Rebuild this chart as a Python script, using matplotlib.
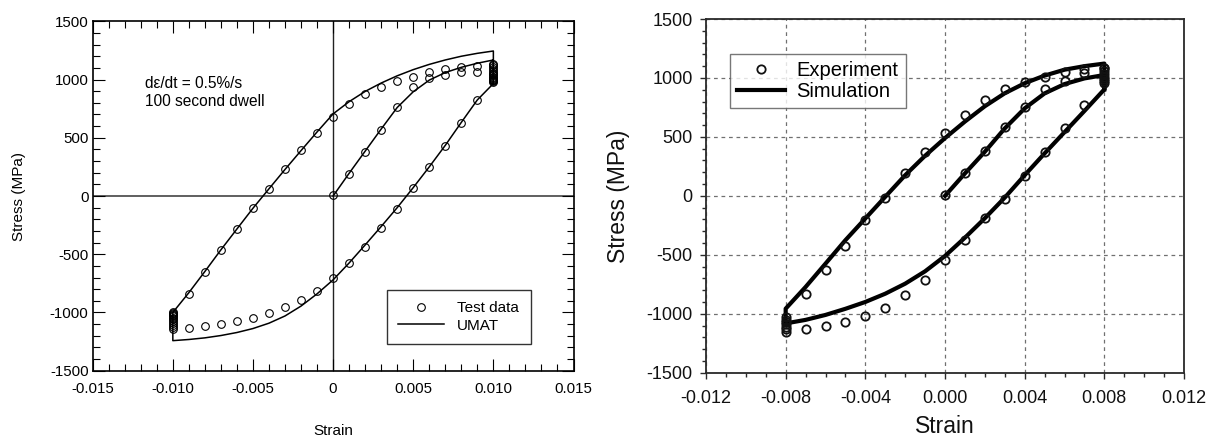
import matplotlib
matplotlib.use('Agg')
import matplotlib.pyplot as plt
from matplotlib.ticker import MultipleLocator, FixedLocator, FixedFormatter
import numpy as np

plt.rcParams['font.family'] = ['Liberation Sans', 'DejaVu Sans']
plt.rcParams['axes.unicode_minus'] = False

# ---------------- left panel: UMAT fit, 100 s dwell, +/-1% strain ----------------
# test data, strain in steps of 0.001
left_load_strain = [0.000, 0.001, 0.002, 0.003, 0.004, 0.005, 0.006, 0.007, 0.008, 0.009]
left_load_stress = [5, 188, 375, 567, 762, 938, 1015, 1043, 1061, 1064]

left_dwell_hi = [1128, 1108, 1090, 1072, 1058, 1045, 1035, 1025, 1016, 1008, 1000, 993, 986, 978]
left_dwell_lo = [-1145, -1125, -1105, -1088, -1072, -1058, -1045, -1034, -1024, -1015, -1007, -1000]

left_unload_strain = [0.009, 0.008, 0.007, 0.006, 0.005, 0.004, 0.003, 0.002, 0.001, 0.000,
                      -0.001, -0.002, -0.003, -0.004, -0.005, -0.006, -0.007, -0.008, -0.009]
left_unload_stress = [826, 631, 433, 251, 65, -113, -274, -438, -578, -702,
                      -814, -894, -955, -1006, -1044, -1075, -1095, -1115, -1133]

left_reload_strain = [-0.009, -0.008, -0.007, -0.006, -0.005, -0.004, -0.003, -0.002, -0.001, 0.000,
                      0.001, 0.002, 0.003, 0.004, 0.005, 0.006, 0.007, 0.008, 0.009, 0.010]
left_reload_stress = [-840, -653, -461, -283, -105, 62, 231, 392, 544, 676,
                      788, 874, 937, 989, 1026, 1065, 1088, 1104, 1120, 1130]

# UMAT response (initial loading -> dwell -> unloading -> dwell -> reloading -> dwell)
umat_strain = [0.000, 0.001, 0.002, 0.003, 0.004, 0.005, 0.006, 0.007, 0.008, 0.009, 0.010,
               0.010, 0.009, 0.008, 0.007, 0.006, 0.005, 0.004, 0.003, 0.002, 0.001, 0.000,
               -0.001, -0.002, -0.003, -0.004, -0.005, -0.006, -0.007, -0.008, -0.009, -0.010,
               -0.010, -0.009, -0.008, -0.007, -0.006, -0.005, -0.004, -0.003, -0.002, -0.001, 0.000,
               0.001, 0.002, 0.003, 0.004, 0.005, 0.006, 0.007, 0.008, 0.009, 0.010, 0.010]
umat_stress = [0, 195, 385, 575, 760, 895, 995, 1060, 1105, 1140, 1168,
               965, 825, 632, 435, 250, 72, -100, -262, -420, -575, -720,
               -840, -945, -1030, -1092, -1138, -1172, -1198, -1218, -1232, -1242,
               -1000, -830, -648, -462, -283, -105, 62, 228, 390, 550, 705,
               810, 898, 970, 1032, 1085, 1130, 1168, 1200, 1225, 1245, 965]

left_xticks = [-0.015, -0.010, -0.005, 0.0, 0.005, 0.010, 0.015]
left_xtick_labels = ['-0.015', '-0.010', '-0.005', '0', '0.005', '0.010', '0.015']
left_yticks = [-1500, -1000, -500, 0, 500, 1000, 1500]

# ---------------- right panel: experiment vs simulation, +/-0.8% strain ----------------
right_load_strain = [0.000, 0.001, 0.002, 0.003, 0.004, 0.005, 0.006, 0.007]
right_load_stress = [11, 198, 382, 580, 756, 908, 976, 1039]

right_dwell_hi = [1085, 1060, 1035, 1010, 990, 975, 960]
right_dwell_lo = [-1155, -1130, -1110, -1090, -1070, -1050, -1030]

right_unload_strain = [0.007, 0.006, 0.005, 0.004, 0.003, 0.002, 0.001, 0.000,
                       -0.001, -0.002, -0.003, -0.004, -0.005, -0.006, -0.007]
right_unload_stress = [770, 572, 374, 170, -23, -192, -371, -546,
                       -710, -843, -951, -1022, -1070, -1107, -1132]

right_reload_strain = [-0.007, -0.006, -0.005, -0.004, -0.003, -0.002, -0.001, 0.000,
                       0.001, 0.002, 0.003, 0.004, 0.005, 0.006, 0.007, 0.008]
right_reload_stress = [-835, -631, -427, -207, -14, 190, 368, 535,
                       685, 812, 903, 965, 1010, 1053, 1075, 1081]

sim_strain = [0.000, 0.001, 0.002, 0.003, 0.004, 0.005, 0.006, 0.007, 0.008,
              0.008, 0.007, 0.006, 0.005, 0.004, 0.003, 0.002, 0.001, 0.000,
              -0.001, -0.002, -0.003, -0.004, -0.005, -0.006, -0.007, -0.008,
              -0.008, -0.007, -0.006, -0.005, -0.004, -0.003, -0.002, -0.001, 0.000,
              0.001, 0.002, 0.003, 0.004, 0.005, 0.006, 0.007, 0.008, 0.008]
sim_stress = [0, 190, 374, 572, 742, 869, 948, 996, 1025,
              903, 720, 540, 360, 175, -15, -190, -355, -510,
              -640, -745, -830, -900, -958, -1010, -1052, -1082,
              -957, -773, -575, -376, -192, -8, 175, 340, 490,
              630, 760, 870, 955, 1020, 1070, 1100, 1122, 903]

right_xticks = [-0.012, -0.008, -0.004, 0.0, 0.004, 0.008, 0.012]
right_xtick_labels = ['-0.012', '-0.008', '-0.004', '0.000', '0.004', '0.008', '0.012']
right_yticks = [-1500, -1000, -500, 0, 500, 1000, 1500]

W, H = 1216, 440
fig = plt.figure(figsize=(W / 100, H / 100), dpi=100)


def px_axes(x0, y0, x1, y1):
    return fig.add_axes([x0 / W, 1 - y1 / H, (x1 - x0) / W, (y1 - y0) / H])


# ---- left ----
ax1 = px_axes(92.7, 21.3, 573.5, 370.7)
ax1.axhline(0, color='#444444', lw=1.2, zorder=1)
ax1.axvline(0, color='#222222', lw=1.0, zorder=1)
ax1.plot(umat_strain, umat_stress, color='k', lw=1.1, zorder=2, label='UMAT')

mk1 = dict(ls='none', marker='o', ms=5.5, mfc='none', mec='k', mew=0.8, zorder=3)
ax1.plot(left_load_strain, left_load_stress, **mk1, label='Test data')
ax1.plot([0.010] * len(left_dwell_hi), left_dwell_hi, **mk1)
ax1.plot(left_unload_strain, left_unload_stress, **mk1)
ax1.plot([-0.010] * len(left_dwell_lo), left_dwell_lo, **mk1)
ax1.plot(left_reload_strain, left_reload_stress, **mk1)

ax1.set_xlim(-0.015, 0.015)
ax1.set_ylim(-1500, 1500)
ax1.xaxis.set_major_locator(FixedLocator(left_xticks))
ax1.xaxis.set_major_formatter(FixedFormatter(left_xtick_labels))
ax1.xaxis.set_minor_locator(MultipleLocator(0.001))
ax1.yaxis.set_major_locator(FixedLocator(left_yticks))
ax1.yaxis.set_minor_locator(MultipleLocator(100))
ax1.tick_params(which='both', direction='in', top=True, right=True, width=0.8, labelsize=10.8)
ax1.tick_params(which='major', length=8.5)
ax1.tick_params(which='minor', length=5)
ax1.tick_params(axis='x', pad=8)
ax1.tick_params(axis='y', pad=3)
for s in ax1.spines.values():
    s.set_linewidth(1.2)

ax1.set_xlabel('Strain', fontsize=11)
ax1.set_ylabel('Stress (MPa)', fontsize=11)
ax1.xaxis.set_label_coords(0.5, -0.153)
ax1.yaxis.set_label_coords(-0.138, 0.5)

ax1.text(0.109, 0.796, 'd\u03b5/dt = 0.5%/s\n100 second dwell', transform=ax1.transAxes,
         fontsize=11.2, va='center', ha='left', linespacing=1.25)

h, l = ax1.get_legend_handles_labels()
leg1 = ax1.legend(h[::-1], l[::-1], loc='lower left', bbox_to_anchor=(0.612, 0.0764),
                  borderaxespad=0, fontsize=11, fancybox=False, edgecolor='k',
                  handlelength=3.0, handletextpad=0.85, borderpad=0.75, labelspacing=0.2)
leg1.get_frame().set_linewidth(1.0)

# ---- right ----
dark = '#2a2a2a'
ax2 = px_axes(706, 19, 1184, 372.7)
ax2.grid(True, which='major', color='#707070', lw=0.9, ls=(0, (3, 3)))
ax2.set_axisbelow(True)
ax2.plot(sim_strain, sim_stress, color='k', lw=3.0, zorder=2, label='Simulation',
         solid_joinstyle='round')

mk2 = dict(ls='none', marker='o', ms=6.0, mfc='none', mec='#111111', mew=1.3, zorder=3)
ax2.plot(right_load_strain, right_load_stress, **mk2, label='Experiment')
ax2.plot([0.008] * len(right_dwell_hi), right_dwell_hi, **mk2)
ax2.plot(right_unload_strain, right_unload_stress, **mk2)
ax2.plot([-0.008] * len(right_dwell_lo), right_dwell_lo, **mk2)
ax2.plot(right_reload_strain, right_reload_stress, **mk2)

ax2.set_xlim(-0.012, 0.012)
ax2.set_ylim(-1500, 1500)
ax2.xaxis.set_major_locator(FixedLocator(right_xticks))
ax2.xaxis.set_major_formatter(FixedFormatter(right_xtick_labels))
ax2.xaxis.set_minor_locator(MultipleLocator(0.001))
ax2.yaxis.set_major_locator(FixedLocator(right_yticks))
ax2.yaxis.set_minor_locator(MultipleLocator(100))
ax2.tick_params(which='both', direction='out', color=dark, width=1.0,
                labelsize=13, labelcolor='#111111')
ax2.tick_params(which='major', length=4.5)
ax2.tick_params(which='minor', length=3)
ax2.tick_params(axis='x', pad=8)
ax2.tick_params(axis='y', pad=5)
for s in ax2.spines.values():
    s.set_linewidth(1.3)
    s.set_color(dark)

ax2.set_xlabel('Strain', fontsize=16.5, color='#111111')
ax2.set_ylabel('Stress (MPa)', fontsize=16.5, color='#111111')
ax2.xaxis.set_label_coords(0.5, -0.12)
ax2.yaxis.set_label_coords(-0.16, 0.5)

h, l = ax2.get_legend_handles_labels()
leg2 = ax2.legend(h[::-1], l[::-1], loc='lower left', bbox_to_anchor=(0.0502, 0.7475),
                  borderaxespad=0, fontsize=14.5, fancybox=False, edgecolor='#555555',
                  handlelength=2.4, handletextpad=0.55, borderpad=0.35, labelspacing=0.12)
leg2.get_frame().set_linewidth(1.0)

fig.savefig('out.png', dpi=100)
